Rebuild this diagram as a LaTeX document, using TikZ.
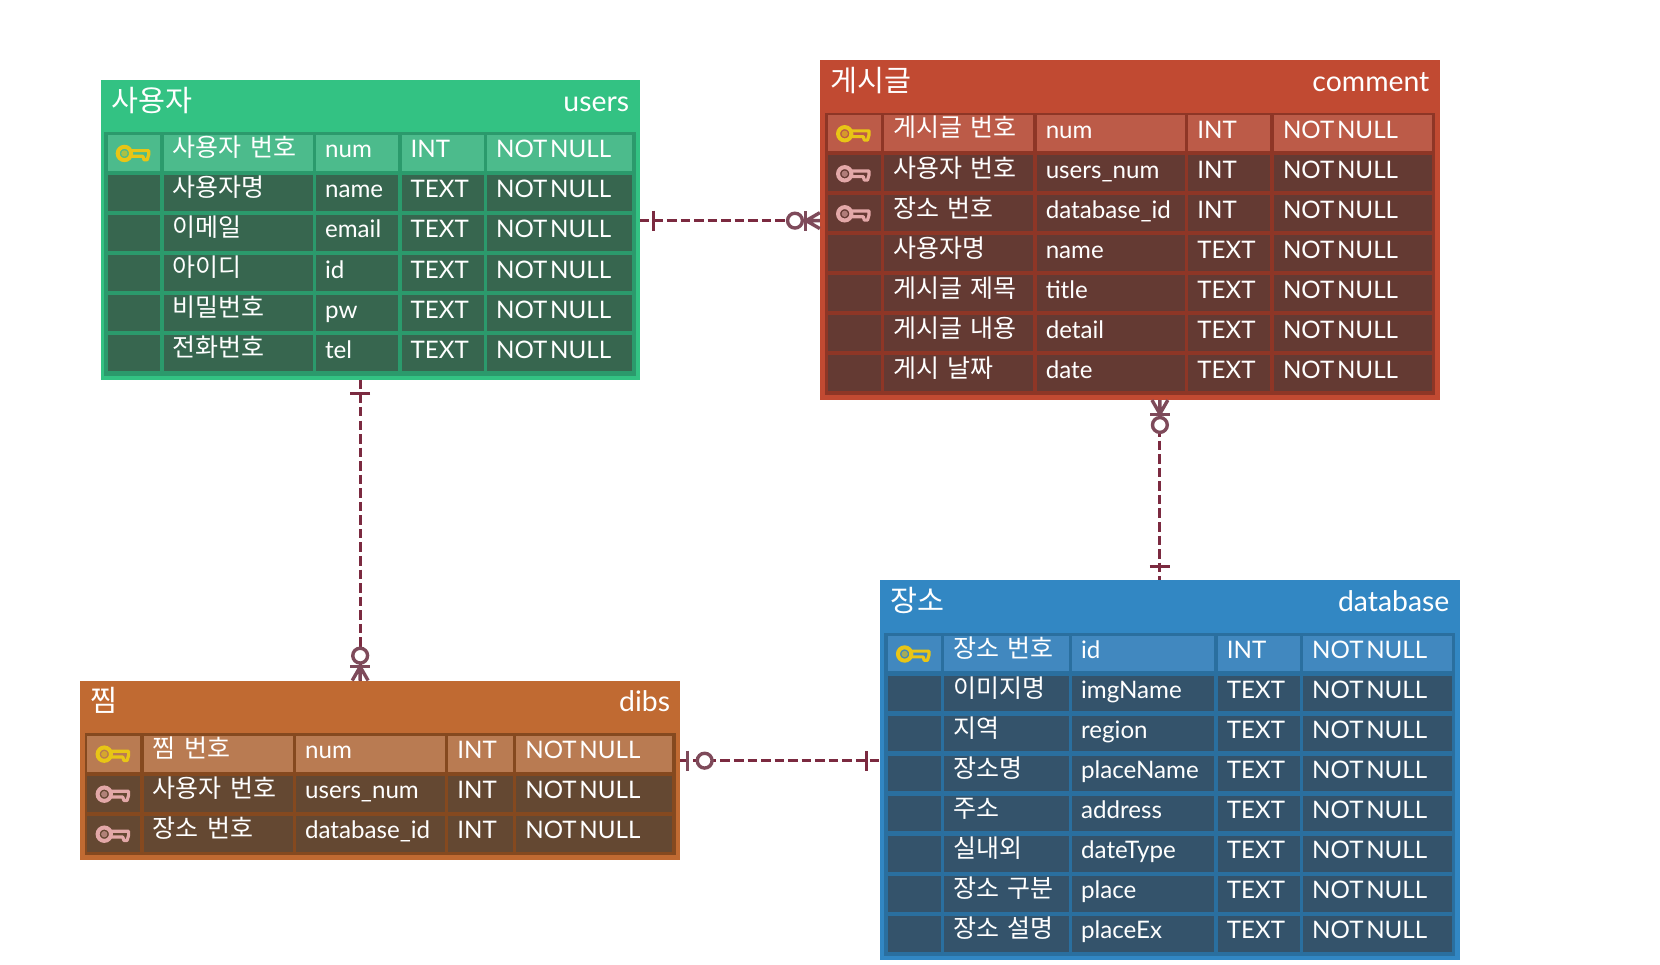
\documentclass[tikz,border=0pt]{standalone}
\usepackage{fontspec}
\usetikzlibrary{positioning}
\setmainfont{Lato}
\newfontfamily\krfont{Noto Sans CJK KR}
\definecolor{relline}{HTML}{7B2A40}
\definecolor{relmark}{HTML}{7E4A5A}
\definecolor{usersbg}{HTML}{33C283}
\definecolor{usersgap}{HTML}{2B9A6C}
\definecolor{usershead}{HTML}{4CBB8C}
\definecolor{usersrow}{HTML}{37664F}
\definecolor{commentbg}{HTML}{C14A32}
\definecolor{commentgap}{HTML}{8E3626}
\definecolor{commenthead}{HTML}{BC5B48}
\definecolor{commentrow}{HTML}{643A33}
\definecolor{dibsbg}{HTML}{C06A32}
\definecolor{dibsgap}{HTML}{85491F}
\definecolor{dibshead}{HTML}{B97B52}
\definecolor{dibsrow}{HTML}{644832}
\definecolor{databasebg}{HTML}{3287C3}
\definecolor{databasegap}{HTML}{2A6F9F}
\definecolor{databasehead}{HTML}{4188BF}
\definecolor{databaserow}{HTML}{34536B}
\definecolor{keyyellow}{HTML}{E8C516}
\definecolor{keyrose}{HTML}{E3A8A8}
\tikzset{
    frame/.style={
           rectangle,
           anchor=north west,
           inner sep=0pt,
           outer sep=0pt,
           },
    body/.style={
           rectangle,
           anchor=north west,
           inner sep=0pt,
           outer sep=0pt,
           },
    cell/.style={
           rectangle,
           inner xsep=8.5pt,
           inner ysep=0pt,
           outer sep=0pt,
           text=white,
           align=left,
           font=\fontsize{22.8}{27}\selectfont,
           text height=21.7pt,
           text depth=12.2pt,
           },
    krcell/.style={
           cell,
           font=\krfont\fontsize{23.6}{27}\selectfont,
           text height=20.5pt,
           text depth=13.4pt,
           },
    keycell/.style={
           rectangle,
           inner sep=0pt,
           outer sep=0pt,
           minimum width=49.8pt,
           minimum height=33.9pt,
           },
    title/.style={
           anchor=base west,
           inner sep=0pt,
           text=white,
           font=\krfont\fontsize{27.7}{30}\selectfont,
           },
    tablename/.style={
           anchor=base east,
           inner sep=0pt,
           text=white,
           font=\fontsize{26.8}{30}\selectfont,
           },
    relation/.style={
           relline,
           line width=3pt,
           dash pattern=on 9pt off 3.8pt,
           },
    keygold/.style={color=keyyellow},
    keypink/.style={color=keyrose},
    keyicon/.pic={
        \draw[line width=3.8pt] (-9,0.5) circle (6.3);
        \fill[opacity=.6] (-9,0.5) circle (3);
        \draw[line width=3pt,line join=round]
            (-3,-2.2) -- (14,-2.2) -- (14,1.5) -- (12.5,6.5) -- (9.5,6.5) -- (8.5,3.2) -- (-3,3.2);
    },
    onemark/.pic={
        \draw[relline,line width=3pt] (13,-9.5) -- (13,9.5);
    },
    zeromany/.pic={
        \draw[relmark,line width=3.2pt] (13,0) -- (0,-7.5) (13,0) -- (0,0) (13,0) -- (0,7.5);
        \draw[relmark,line width=3.2pt] (13.5,-9.5) -- (13.5,9.5);
        \draw[relmark,line width=3.2pt,fill=white] (23.5,0) circle (7);
    },
    zeroone/.pic={
        \draw[relmark,line width=3.2pt] (7,-9.5) -- (7,9.5);
        \draw[relmark,line width=3.2pt,fill=white] (23.5,0) circle (7);
    },
}
\newcommand{\setcols}[4]{\def\wn{#1}\def\wf{#2}\def\wt{#3}\def\wc{#4}}
% name, placement of the key cell, fill, then the texts of the row
\newcommand{\fieldrow}[6]{
    \node[keycell,fill=#3,#2] (#1k) {};
    \node[krcell,fill=#3,text width=\wn,right=3.4pt of #1k] (#1n) {#4};
    \node[cell,fill=#3,text width=\wf,right=3.4pt of #1n] (#1f) {#5};
    \node[cell,fill=#3,text width=\wt,right=3.4pt of #1f] (#1t) {#6};
    \node[cell,fill=#3,text width=\wc,right=3.4pt of #1t] (#1c) {\spaceskip=2.6pt NOT NULL};
}

\begin{document}
\begin{tikzpicture}[x=1pt,y=-1pt]

    \useasboundingbox (0,0) rectangle (1568,910.6);
    \fill[white] (0,0) rectangle (1568,910.6);

    % users
    \node[frame,fill=usersbg,minimum width=509.4pt,minimum height=282.8pt]
        (U) at (95,76) {};
    \node[body,fill=usersgap,minimum width=502.1pt,minimum height=230pt]
        (UB) at (98.4,125) {};
    \node[title] (UK) at ([shift={(10,29.2)}]U.north west) {사용자};
    \node[tablename] (UE) at ([shift={(-10,29)}]U.north east) {users};
    \setcols{123.4pt}{60.4pt}{60.4pt}{119.8pt}
    \fieldrow{U1}{at={([shift={(3.2,2.5)}]UB.north west)},anchor=north west}{usershead}{사용자 번호}{num}{INT}
    \fieldrow{U2}{below=3.9pt of U1k}{usersrow}{사용자명}{name}{TEXT}
    \fieldrow{U3}{below=3.9pt of U2k}{usersrow}{이메일}{email}{TEXT}
    \fieldrow{U4}{below=3.9pt of U3k}{usersrow}{아이디}{id}{TEXT}
    \fieldrow{U5}{below=3.9pt of U4k}{usersrow}{비밀번호}{pw}{TEXT}
    \fieldrow{U6}{below=3.9pt of U5k}{usersrow}{전화번호}{tel}{TEXT}

    % comment
    \node[frame,fill=commentbg,minimum width=585.4pt,minimum height=321.2pt]
        (C) at (774.4,56.7) {};
    \node[body,fill=commentgap,minimum width=576.5pt,minimum height=266.6pt]
        (CB) at (779,106.4) {};
    \node[title] (CK) at ([shift={(10,29.5)}]C.north west) {게시글};
    \node[tablename] (CE) at ([shift={(-9.5,29.5)}]C.north east) {comment};
    \setcols{123.7pt}{122.9pt}{60.4pt}{132pt}
    \fieldrow{C1}{at={([shift={(3,2.5)}]CB.north west)},anchor=north west}{commenthead}{게시글 번호}{num}{INT}
    \fieldrow{C2}{below=3.9pt of C1k}{commentrow}{사용자 번호}{users\_num}{INT}
    \fieldrow{C3}{below=3.9pt of C2k}{commentrow}{장소 번호}{database\_id}{INT}
    \fieldrow{C4}{below=3.9pt of C3k}{commentrow}{사용자명}{name}{TEXT}
    \fieldrow{C5}{below=3.9pt of C4k}{commentrow}{게시글 제목}{title}{TEXT}
    \fieldrow{C6}{below=3.9pt of C5k}{commentrow}{게시글 내용}{detail}{TEXT}
    \fieldrow{C7}{below=3.9pt of C6k}{commentrow}{게시 날짜}{date}{TEXT}

    % dibs
    \node[frame,fill=dibsbg,minimum width=566.2pt,minimum height=169.4pt]
        (D) at (75.9,642.8) {};
    \node[body,fill=dibsgap,minimum width=558.4pt,minimum height=115.6pt]
        (DB) at (80,692) {};
    \node[title] (DK) at ([shift={(9.5,29.5)}]D.north west) {찜};
    \node[tablename] (DE) at ([shift={(-9,29.5)}]D.north east) {dibs};
    \setcols{123.5pt}{123.5pt}{43.8pt}{129.7pt}
    \fieldrow{D1}{at={([shift={(2.6,2.9)}]DB.north west)},anchor=north west}{dibshead}{찜 번호}{num}{INT}
    \fieldrow{D2}{below=3.9pt of D1k}{dibsrow}{사용자 번호}{users\_num}{INT}
    \fieldrow{D3}{below=3.9pt of D2k}{dibsrow}{장소 번호}{database\_id}{INT}

    % database
    \node[frame,fill=databasebg,minimum width=547.6pt,minimum height=358.5pt]
        (P) at (831.1,548.2) {};
    \node[body,fill=databasegap,minimum width=539.4pt,minimum height=305.2pt]
        (PB) at (835.2,597.6) {};
    \node[title] (PK) at ([shift={(10,29.5)}]P.north west) {장소};
    \node[tablename] (PE) at ([shift={(-9.5,29.5)}]P.north east) {database};
    \setcols{100.5pt}{117.3pt}{60.2pt}{123.3pt}
    \fieldrow{P1}{at={([shift={(3.4,2.7)}]PB.north west)},anchor=north west}{databasehead}{장소 번호}{id}{INT}
    \fieldrow{P2}{below=3.9pt of P1k}{databaserow}{이미지명}{imgName}{TEXT}
    \fieldrow{P3}{below=3.9pt of P2k}{databaserow}{지역}{region}{TEXT}
    \fieldrow{P4}{below=3.9pt of P3k}{databaserow}{장소명}{placeName}{TEXT}
    \fieldrow{P5}{below=3.9pt of P4k}{databaserow}{주소}{address}{TEXT}
    \fieldrow{P6}{below=3.9pt of P5k}{databaserow}{실내외}{dateType}{TEXT}
    \fieldrow{P7}{below=3.9pt of P6k}{databaserow}{장소 구분}{place}{TEXT}
    \fieldrow{P8}{below=3.9pt of P7k}{databaserow}{장소 설명}{placeEx}{TEXT}

    % keys
    \pic[keygold] at (U1k) {keyicon};
    \pic[keygold] at (C1k) {keyicon};
    \pic[keypink] at (C2k) {keyicon};
    \pic[keypink] at (C3k) {keyicon};
    \pic[keygold] at (D1k) {keyicon};
    \pic[keypink] at (D2k) {keyicon};
    \pic[keypink] at (D3k) {keyicon};
    \pic[keygold] at (P1k) {keyicon};

    % relations
    \coordinate (UC1) at ([yshift=9pt]U.east);
    \coordinate (UD1) at ([xshift=-9.5pt]U.south);
    \coordinate (CP1) at ([xshift=28.5pt]C.south);
    \coordinate (DP1) at ([yshift=9pt]D.east);
    \draw[relation] (UC1) -- (UC1 -| C.west);
    \draw[relation] (UD1) -- (UD1 |- D.north);
    \draw[relation] (CP1) -- (CP1 |- P.north);
    \draw[relation] (DP1) -- (DP1 -| P.west);

    \pic at (UC1) {onemark};
    \pic[rotate=180] at (UC1 -| C.west) {zeromany};
    \pic[rotate=-90] at (UD1) {onemark};
    \pic[rotate=90] at (UD1 |- D.north) {zeromany};
    \pic[rotate=-90] at (CP1) {zeromany};
    \pic[rotate=90] at (CP1 |- P.north) {onemark};
    \pic at (DP1) {zeroone};
    \pic[rotate=180] at (DP1 -| P.west) {onemark};

\end{tikzpicture}
\end{document}
